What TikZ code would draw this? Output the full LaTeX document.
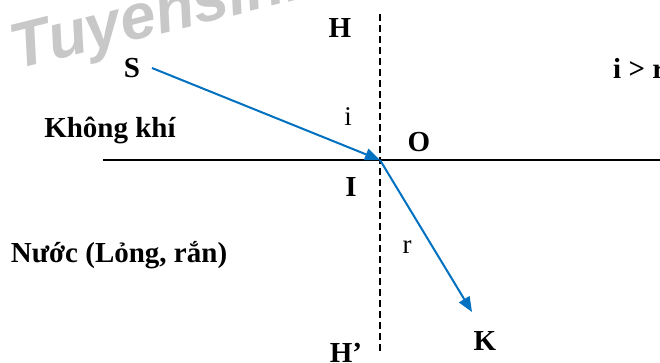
\documentclass[tikz,border=0pt]{standalone}
\usepackage{fontspec}
\setmainfont{Liberation Serif}
\newfontfamily\wmfont{Liberation Sans}
\usetikzlibrary{arrows.meta}
\definecolor{raycol}{RGB}{0,112,192}
\definecolor{wmgray}{RGB}{200,200,200}

\begin{document}
\begin{tikzpicture}[x=1pt,y=-1pt,
  every node/.style={font=\fontsize{29}{32}\selectfont\bfseries, inner sep=0pt},
  thin label/.style={font=\fontsize{27}{30}\selectfont},
  ray/.style={raycol, line width=2pt, -{Triangle[length=15pt,width=12pt]}}]
\useasboundingbox (0,0) rectangle (660,362);
% watermark
\node[font=\wmfont\fontsize{64}{66}\selectfont\bfseries\itshape, text=wmgray,
  rotate=14, anchor=base west] (wm) at (16,70) {Tuyensinh};
% points
\coordinate (Ht) at (380,14);
\coordinate (Hb) at (380,352);
\coordinate (Ll) at (103,160);
\coordinate (Lr) at (660,160);
\coordinate (I) at (380,160);
\coordinate (Sr) at (152,68);
\coordinate (Kr) at (472,312);
% labels
\node (H) at (340,28) {H};
\node (S) at (132,68) {S};
\node (cmp) [anchor=west] at (613,68) {i > r};
\node (air) at (110,130) {Không khí};
\node[thin label] (ilab) at (348,117) {i};
\node (O) at (419,142) {O};
\node (Ilab) at (351,187) {I};
\node (water) at (119,255) {Nước (Lỏng, rắn)};
\node[thin label] (rlab) at (407,247) {r};
\node (K) at (485,341) {K};
\node (Hp) [anchor=north] at (346,343) {H’};
% lines
\draw[line width=1.3pt, dash pattern=on 7pt off 4pt] (Ht)--(Hb);
\draw[line width=1.5pt] (Ll)--(Lr);
\draw[ray] (Sr)--(I);
\draw[ray] (I)--(Kr);
\end{tikzpicture}
\end{document}
